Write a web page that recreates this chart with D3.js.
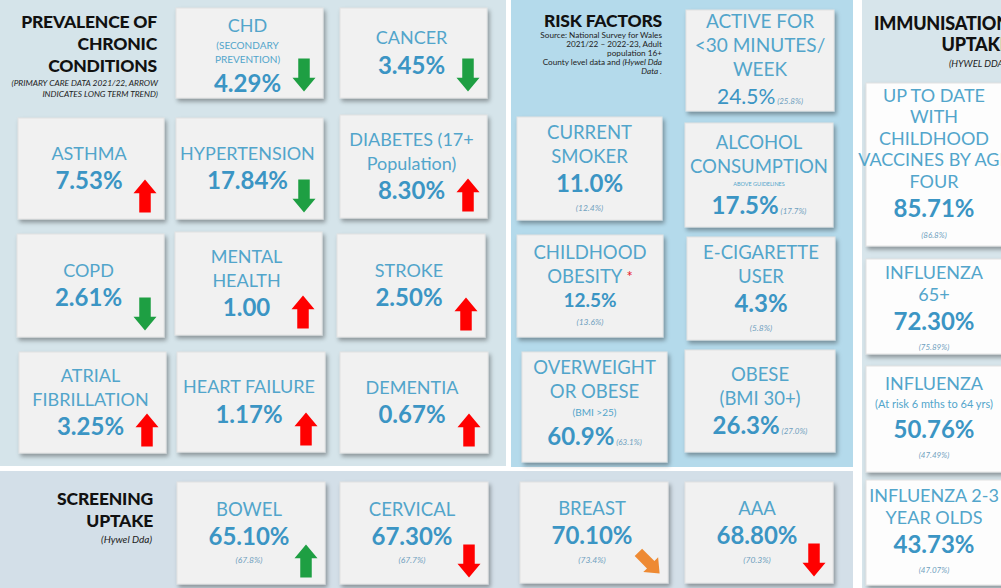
<!DOCTYPE html>
<html>
<head>
<meta charset="utf-8">
<script src="https://cdn.jsdelivr.net/npm/d3@7"></script>
<style>
  html, body { margin: 0; padding: 0; background: #fff; }
  svg { display: block; font-family: Lato, "Open Sans", sans-serif; }
</style>
</head>
<body>
<svg id="chart" width="1001" height="588"></svg>
<script>
//-- prevalence of chronic conditions (primary care data 2021/22)
const conditionNames = ["CHD", "CANCER", "ASTHMA", "HYPERTENSION", "DIABETES (17+|Population)", "COPD",
  "MENTAL|HEALTH", "STROKE", "ATRIAL|FIBRILLATION", "HEART FAILURE", "DEMENTIA"];
const conditionNotes = ["(SECONDARY|PREVENTION)", "", "", "", "", "", "", "", "", "", ""];
const conditionValues = [4.29, 3.45, 7.53, 17.84, 8.30, 2.61, 1.00, 2.50, 3.25, 1.17, 0.67];
const conditionUnits = ["%", "%", "%", "%", "%", "%", "", "%", "%", "%", "%"];
const conditionTrends = ["down", "down", "up", "down", "up", "down", "up", "up", "up", "up", "up"];

//-- risk factors (national survey for wales), value and (comparator)
const riskNames = ["ACTIVE FOR|<30 MINUTES/|WEEK", "CURRENT|SMOKER", "ALCOHOL|CONSUMPTION", "CHILDHOOD|OBESITY *",
  "E-CIGARETTE|USER", "OVERWEIGHT|OR OBESE", "OBESE|(BMI 30+)"];
const riskNotes = ["", "", "ABOVE GUIDELINES", "", "", "(BMI >25)", ""];
const riskValues = [24.5, 11.0, 17.5, 12.5, 4.3, 60.9, 26.3];
const riskComparators = [25.8, 12.4, 17.7, 13.6, 5.8, 63.1, 27.0];

//-- screening uptake
const screeningNames = ["BOWEL", "CERVICAL", "BREAST", "AAA"];
const screeningValues = [65.10, 67.30, 70.10, 68.80];
const screeningComparators = [67.8, 67.7, 73.4, 70.3];
const screeningTrends = ["up", "down", "downRight", "down"];

//-- immunisation uptake
const immunisationNames = ["UP TO DATE|WITH|CHILDHOOD|VACCINES BY AGE|FOUR", "INFLUENZA|65+", "INFLUENZA",
  "INFLUENZA 2-3|YEAR OLDS"];
const immunisationNotes = ["", "", "(At risk 6 mths to 64 yrs)", ""];
const immunisationValues = [85.71, 72.30, 50.76, 43.73];
const immunisationComparators = [86.8, 75.89, 47.49, 47.07];

//-- headings
const chronicTitle = ["PREVALENCE OF", "CHRONIC", "CONDITIONS"];
const chronicSubtitle = ["(PRIMARY CARE DATA 2021/22, ARROW", "INDICATES LONG TERM TREND)"];
const riskTitle = ["RISK FACTORS"];
const riskSource = ["Source: National Survey for Wales", "2021/22 \u2013 2022-23, Adult", "population 16+",
  "County level data and |(Hywel Dda", "|Data ."];
const immunisationTitle = ["IMMUNISATION", "UPTAKE"];
const immunisationSubtitle = ["(HYWEL DDA)"];
const screeningTitle = ["SCREENING", "UPTAKE"];
const screeningSubtitle = ["(Hywel Dda)"];

//-- layout (positions kept apart from the data)
const panels = [
  { x: 0, y: 0, w: 506, h: 466, fill: "#d5e4ea" },
  { x: 511, y: 0, w: 342, h: 467, fill: "#b4daeb" },
  { x: 862, y: 0, w: 139, h: 588, fill: "#d7e5eb" },
  { x: 0, y: 471, w: 853, h: 117, fill: "#d3dfe8" }
];
const conditionBoxes = [
  { x: 176, y: 8, w: 147, h: 90, dy: 4, noteH: 14, valueH: 34 }, { x: 340, y: 8, w: 147, h: 90 },
  { x: 18, y: 118, w: 146, h: 101 }, { x: 176, y: 118, w: 147, h: 101 }, { x: 340, y: 115, w: 147, h: 103 },
  { x: 17, y: 234, w: 147, h: 103 }, { x: 175, y: 232, w: 147, h: 103 }, { x: 337, y: 234, w: 148, h: 103 },
  { x: 19, y: 352, w: 147, h: 101 }, { x: 177, y: 352, w: 148, h: 100 }, { x: 340, y: 352, w: 148, h: 101 }
];
const riskBoxes = [
  { x: 686, y: 10, w: 148, h: 101, inline: true, valueSize: 21, valueWeight: 400 },
  { x: 517, y: 117, w: 145, h: 103 },
  { x: 685, y: 123, w: 148, h: 104, inline: true, noteSize: 5.5, noteH: 12 },
  { x: 517, y: 235, w: 146, h: 102, valueSize: 19, valueH: 24 },
  { x: 687, y: 237, w: 148, h: 103 },
  { x: 522, y: 352, w: 145, h: 110, inline: true, noteSize: 10, noteH: 18, dy: -4 },
  { x: 685, y: 350, w: 150, h: 102, inline: true }
];
const screeningBoxes = [
  { x: 177, y: 482, w: 148, h: 102 }, { x: 340, y: 482, w: 148, h: 102 },
  { x: 520, y: 482, w: 148, h: 101 }, { x: 685, y: 482, w: 148, h: 101 }
];
const immunisationBoxes = [
  { x: 866, y: 83, w: 150, h: 163 }, { x: 866, y: 259, w: 150, h: 95, dy: 3 },
  { x: 866, y: 366, w: 150, h: 106, noteH: 18 }, { x: 866, y: 480, w: 150, h: 105 }
];

const labelColor = "#52a5cb";
const valueColor = "#3b95c4";
const priorColor = "#6f9fbe";
const arrowColors = {
  chronic: { up: "#ff0000", down: "#1e9f43" },
  screening: { up: "#1e9f43", down: "#ff0000", downRight: "#ee8a33" }
};

const svg = d3.select("#chart");
const defs = svg.append("defs");
defs.append("filter").attr("id", "shadow").attr("x", "-10%").attr("y", "-10%").attr("width", "130%").attr("height", "130%")
  .append("feDropShadow").attr("dx", 2).attr("dy", 3).attr("stdDeviation", 2)
  .attr("flood-color", "#000").attr("flood-opacity", 0.35);

//-- panels
svg.append("g").selectAll("rect").data(panels).join("rect")
  .attr("x", (d) => d.x).attr("y", (d) => d.y)
  .attr("width", (d) => d.w).attr("height", (d) => d.h)
  .attr("fill", (d) => d.fill);

//-- section headings
function heading(lines, x, y0, step, size) {
  svg.append("g").selectAll("text").data(lines).join("text")
    .attr("x", x).attr("y", (d, i) => y0 + i * step)
    .attr("text-anchor", "end")
    .attr("font-size", size).attr("font-weight", 900).attr("fill", "#111")
    .attr("letter-spacing", -0.2)
    .text((d) => d);
}
//-- small print, "|" switches to italic
function subheading(lines, x, y0, step, size, italic) {
  const t = svg.append("g").selectAll("text").data(lines).join("text")
    .attr("x", x).attr("y", (d, i) => y0 + i * step)
    .attr("text-anchor", "end").attr("font-size", size).attr("fill", "#222");
  t.each(function (d) {
    const parts = d.split("|");
    const el = d3.select(this);
    el.append("tspan").text(parts[0]).attr("font-style", italic ? "italic" : "normal");
    if (parts.length > 1) el.append("tspan").text(parts[1]).attr("font-style", "italic");
  });
}

heading(chronicTitle, 157, 28, 22, 17.5);
subheading(chronicSubtitle, 158, 86, 10.5, 8.4, true);
heading(riskTitle, 662, 27, 22, 17.5);
subheading(riskSource, 662, 38, 9, 8.2, false);
heading(immunisationTitle, 1010, 30, 20.5, 18);
subheading(immunisationSubtitle, 1006, 67, 10, 9.5, true);
heading(screeningTitle, 153, 505, 22, 17.5);
subheading(screeningSubtitle, 152, 543, 10, 10, true);

//-- arrows
function arrowPath(w, h) {
  const hh = h * 0.42, sw = w * 0.5;
  return `M0,${-h / 2} L${w / 2},${-h / 2 + hh} L${sw / 2},${-h / 2 + hh} L${sw / 2},${h / 2}
    L${-sw / 2},${h / 2} L${-sw / 2},${-h / 2 + hh} L${-w / 2},${-h / 2 + hh} Z`;
}
const arrowRotation = { up: 0, down: 180, downRight: 135 };

function drawArrow(g, box, trend, colors) {
  const w = trend === "downRight" ? 21 : 23, h = trend === "downRight" ? 30 : 33;
  const cx = box.x + box.w - 7 - 12;
  const cy = box.y + box.h - (trend === "downRight" ? 20 : 23);
  g.append("path")
    .attr("d", arrowPath(w, h))
    .attr("transform", `translate(${cx},${cy}) rotate(${arrowRotation[trend]})`)
    .attr("fill", colors[trend]);
}

//-- a tile: box, stacked text lines and optional arrow
function drawTile(parent, box, lines, opt) {
  const g = parent.append("g");
  g.append("rect")
    .attr("x", box.x).attr("y", box.y).attr("width", box.w).attr("height", box.h)
    .attr("fill", opt.fill || "#f1f1f1").attr("stroke", "#e2e2e2")
    .attr("filter", "url(#shadow)");
  const total = d3.sum(lines, (d) => d.h);
  let top = box.y + box.h / 2 - total / 2 + (box.dy || 0);
  const cx = opt.cx != null ? opt.cx : box.x + box.w / 2 - (opt.shift || 0);
  lines.forEach((line) => {
    const cy = top + line.h / 2;
    top += line.h;
    const t = g.append("text")
      .attr("x", cx).attr("y", cy).attr("dy", "0.36em")
      .attr("text-anchor", "middle")
      .attr("font-size", line.size)
      .attr("font-weight", line.weight || 400)
      .attr("font-style", line.italic ? "italic" : "normal")
      .attr("fill", line.color);
    if (line.text.includes("*")) {
      const parts = line.text.split("*");
      t.append("tspan").text(parts[0]);
      t.append("tspan").text("*").attr("fill", "#e8212f").attr("font-size", line.size * 0.8).attr("dy", "-0.1em");
    } else {
      t.append("tspan").text(line.text);
    }
    if (line.inlinePrior) {
      t.append("tspan").text(" " + line.inlinePrior)
        .attr("font-size", 8).attr("font-style", "italic").attr("font-weight", 400).attr("fill", priorColor);
    }
  });
  return g;
}

const f2 = d3.format(".2f"), f1 = d3.format(".1f"), f2t = d3.format(".2~f");

//-- chronic conditions
const chronicG = svg.append("g");
conditionNames.forEach((name, i) => {
  const box = conditionBoxes[i];
  const lines = name.split("|").map((s) => ({ text: s, size: 18, h: 24, color: labelColor }));
  if (conditionNotes[i]) {
    conditionNotes[i].split("|").forEach((s) => lines.push({ text: s, size: 10, h: box.noteH || 13, color: labelColor }));
  }
  lines.push({ text: f2(conditionValues[i]) + conditionUnits[i], size: 24, h: box.valueH || 30, weight: 700, color: valueColor });
  const g = drawTile(chronicG, box, lines, { shift: 2 });
  drawArrow(g, box, conditionTrends[i], arrowColors.chronic);
});

//-- risk factors
const riskG = svg.append("g");
riskNames.forEach((name, i) => {
  const box = riskBoxes[i];
  const lines = name.split("|").map((s) => ({ text: s, size: i === 0 ? 19 : 18.5, h: 24, color: labelColor }));
  if (riskNotes[i]) lines.push({ text: riskNotes[i], size: box.noteSize, h: box.noteH, color: labelColor });
  const prior = "(" + f1(riskComparators[i]) + "%)";
  lines.push({
    text: f1(riskValues[i]) + "%", size: box.valueSize || 24, h: box.valueH || 30,
    weight: box.valueWeight || 700, color: valueColor, inlinePrior: box.inline ? prior : null
  });
  if (!box.inline) lines.push({ text: prior, size: 8.5, h: 19, italic: true, color: priorColor });
  drawTile(riskG, box, lines, {});
});

//-- screening uptake
const screenG = svg.append("g");
screeningNames.forEach((name, i) => {
  const box = screeningBoxes[i];
  const lines = [
    { text: name, size: 18.5, h: 24, color: labelColor },
    { text: f2(screeningValues[i]) + "%", size: 24, h: 30, weight: 700, color: valueColor },
    { text: "(" + f1(screeningComparators[i]) + "%)", size: 8.5, h: 18, italic: true, color: priorColor }
  ];
  const g = drawTile(screenG, box, lines, { shift: 2 });
  drawArrow(g, box, screeningTrends[i], arrowColors.screening);
});

//-- immunisation uptake
const immG = svg.append("g");
immunisationNames.forEach((name, i) => {
  const box = immunisationBoxes[i];
  const lines = name.split("|").map((s) => ({ text: s, size: 18, h: 21.5, color: labelColor }));
  if (immunisationNotes[i]) lines.push({ text: immunisationNotes[i], size: 11, h: box.noteH || 20, color: labelColor });
  lines.push({ text: f2(immunisationValues[i]) + "%", size: 24, h: 33, weight: 700, color: valueColor });
  lines.push({ text: "(" + f2t(immunisationComparators[i]) + "%)", size: 8, h: 19, italic: true, color: priorColor });
  drawTile(immG, box, lines, { fill: "#fdfdfd", cx: 934 });
});
</script>
</body>
</html>
